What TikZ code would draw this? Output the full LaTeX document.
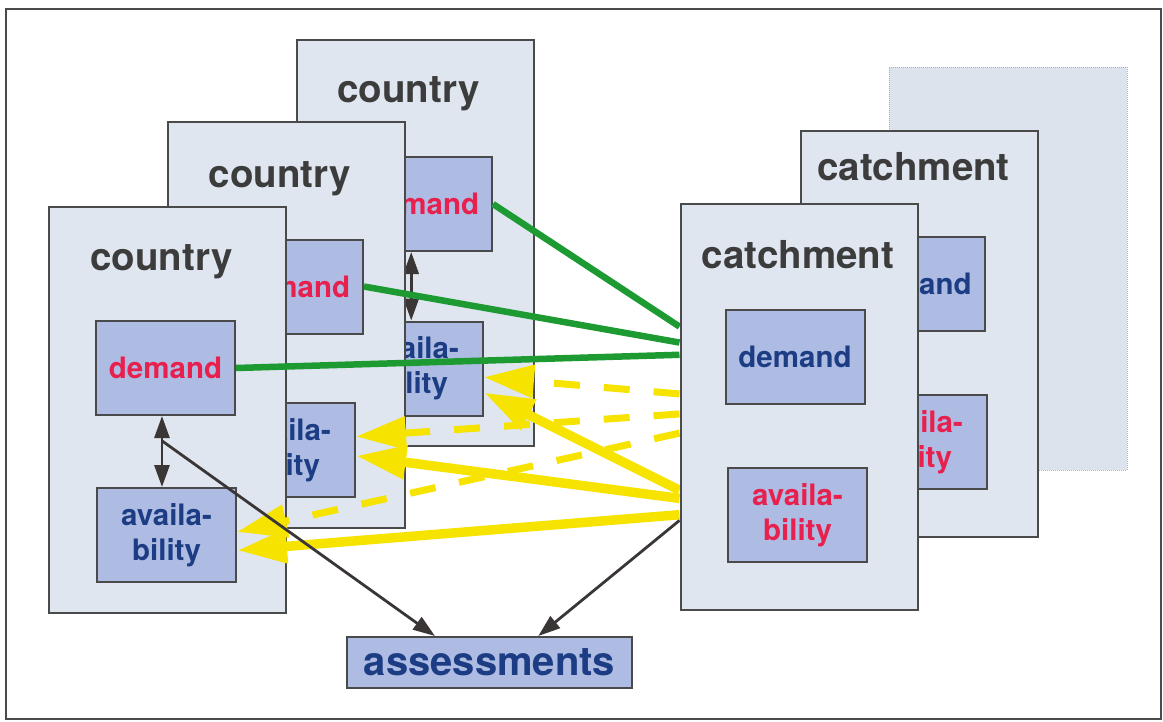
\documentclass[tikz,border=0pt]{standalone}
\usepackage{fontspec}
\setmainfont{TeX Gyre Heros}
\usetikzlibrary{arrows.meta,calc}

\definecolor{panelfill}{HTML}{DFE6F0}
\definecolor{ghostfill}{HTML}{DCE3ED}
\definecolor{cellfill}{HTML}{AEBBE3}
\definecolor{edgegray}{HTML}{4A4A4A}
\definecolor{titlegray}{HTML}{3C3C3C}
\definecolor{demandred}{HTML}{E8204E}
\definecolor{deepblue}{HTML}{1C3D84}
\definecolor{linkgreen}{HTML}{1E9A32}
\definecolor{flowyellow}{HTML}{F7E300}
\definecolor{arrowgray}{HTML}{3A3636}

\pgfdeclarelayer{back}
\pgfsetlayers{back,main}

\tikzset{
  outerframe/.style={draw=edgegray, line width=2pt},
  panel/.style={draw=edgegray, line width=2pt, fill=panelfill,
    minimum width=237pt, minimum height=406pt, inner sep=0pt},
  ghostpanel/.style={draw=gray!60, densely dotted, line width=1pt, fill=ghostfill,
    minimum width=238pt, minimum height=403pt, inner sep=0pt},
  cell/.style={draw=edgegray, line width=2pt, fill=cellfill,
    minimum width=139pt, minimum height=94pt, inner sep=0pt, align=center,
    font=\fontsize{29.5}{35}\selectfont\bfseries},
  paneltitle/.style={anchor=base, inner sep=0pt, text=titlegray,
    font=\fontsize{38.5}{40}\selectfont\bfseries},
  resultbox/.style={draw=edgegray, line width=2pt, fill=cellfill,
    minimum width=285pt, minimum height=51pt, inner sep=0pt, text=deepblue,
    font=\fontsize{40}{44}\selectfont\bfseries},
  greenlink/.style={draw=linkgreen, line width=6.5pt},
  flow/.style={draw=flowyellow, line width=9.5pt,
    -{Triangle[length=50pt,width=32pt]}},
  dashedflow/.style={flow, line width=7pt, dash pattern=on 26pt off 24pt},
  pair/.style={draw=arrowgray, line width=2.8pt,
    {Triangle[length=22pt,width=15pt]}-{Triangle[length=22pt,width=15pt]}},
  feed/.style={draw=arrowgray, line width=2.8pt,
    -{Triangle[length=22pt,width=15pt]}},
}

\begin{document}
\begin{tikzpicture}[x=1pt,y=-1pt]
\useasboundingbox (0,0) rectangle (1163,721);
\draw[outerframe] (6,9) rectangle (1161,719);

% front catchment and the assessment box
\node[panel] (k1) at (799,407) {};
\node[paneltitle] (k1t) at (798,268) {catchment};
\node[cell, text=deepblue] (k1d) at (795,356.5) {demand};
\node[cell, text=demandred] (k1a) at (797.5,515) {availa-\\bility};
\node[resultbox] (res) at (489.5,662.5) {assessments};

\begin{pgfonlayer}{back}
  % catchments further back
  \node[ghostpanel] (k3) at (1008,268.5) {};
  \node[panel] (k2) at (919.5,333.5) {};
  \node[paneltitle] (k2t) at (913.5,180) {catchment};
  \node[cell, text=deepblue] (k2d) at (915,283.5) {demand};
  \node[cell, text=demandred] (k2a) at (917.5,442) {availa-\\bility};

  % country stack, back to front
  \node[panel] (c3) at (415,243) {};
  \node[paneltitle] (c3t) at (408.5,102) {country};
  \node[cell, text=demandred] (c3d) at (422.5,204) {demand};
  \node[cell, text=deepblue] (c3a) at (413.5,368.5) {availa-\\bility};
  \coordinate (c3x) at ($(c3d.south west)!0.42!(c3d.south east)$);
  \draw[pair] (c3x) -- (c3x |- c3a.north);

  \node[panel] (c2) at (286,325) {};
  \node[paneltitle] (c2t) at (280,187) {country};
  \node[cell, text=demandred] (c2d) at (293.5,286.5) {demand};
  \node[cell, text=deepblue] (c2a) at (285.5,450) {availa-\\bility};
  \coordinate (c2x) at ($(c2d.south west)!0.38!(c2d.south east)$);
  \draw[pair] (c2x) -- (c2x |- c2a.north);

  \node[panel] (c1) at (167,410) {};
  \node[paneltitle] (c1t) at (161.5,270) {country};
  \node[cell, text=demandred] (c1d) at (165.5,368) {demand};
  \node[cell, text=deepblue] (c1a) at (166.5,535) {availa-\\bility};
  \coordinate (c1x) at ($(c1d.south west)!0.475!(c1d.south east)$);
  \draw[pair] (c1x) -- (c1x |- c1a.north);
  \coordinate (c1branch) at ($(c1x)!0.35!(c1x |- c1a.north)$);

  % demand links
  \draw[greenlink] ($(k1.north west)!0.303!(k1.south west)$) -- (c3d.east);
  \draw[greenlink] ($(k1.north west)!0.342!(k1.south west)$) -- (c2d.east);
  \draw[greenlink] ($(k1.north west)!0.372!(k1.south west)$) -- (c1d.east);

  % availability flows, dashed from the catchments behind
  \draw[dashedflow] ($(k1.north west)!0.468!(k1.south west)$) -- ($(c3a.north east)!0.59!(c3a.south east)$);
  \draw[dashedflow] ($(k1.north west)!0.517!(k1.south west)$) -- ($(c2a.north east)!0.36!(c2a.south east)$);
  \draw[dashedflow] ($(k1.north west)!0.564!(k1.south west)$) -- ($(c1a.north east)!0.468!(c1a.south east)$);

  % availability flows from the front catchment
  \draw[flow] ($(k1.north west)!0.704!(k1.south west)$) -- ($(c3a.north east)!0.75!(c3a.south east)$);
  \draw[flow] ($(k1.north west)!0.724!(k1.south west)$) -- ($(c2a.north east)!0.56!(c2a.south east)$);
  \draw[flow] ($(k1.north west)!0.764!(k1.south west)$) -- ($(c1a.north east)!0.66!(c1a.south east)$);

  % inputs to the assessments
  \draw[feed] (c1branch) -- ($(res.north west)!0.31!(res.north east)$);
  \draw[feed] ($(k1.north west)!0.778!(k1.south west)$) -- ($(res.north west)!0.67!(res.north east)$);
\end{pgfonlayer}
\end{tikzpicture}
\end{document}
